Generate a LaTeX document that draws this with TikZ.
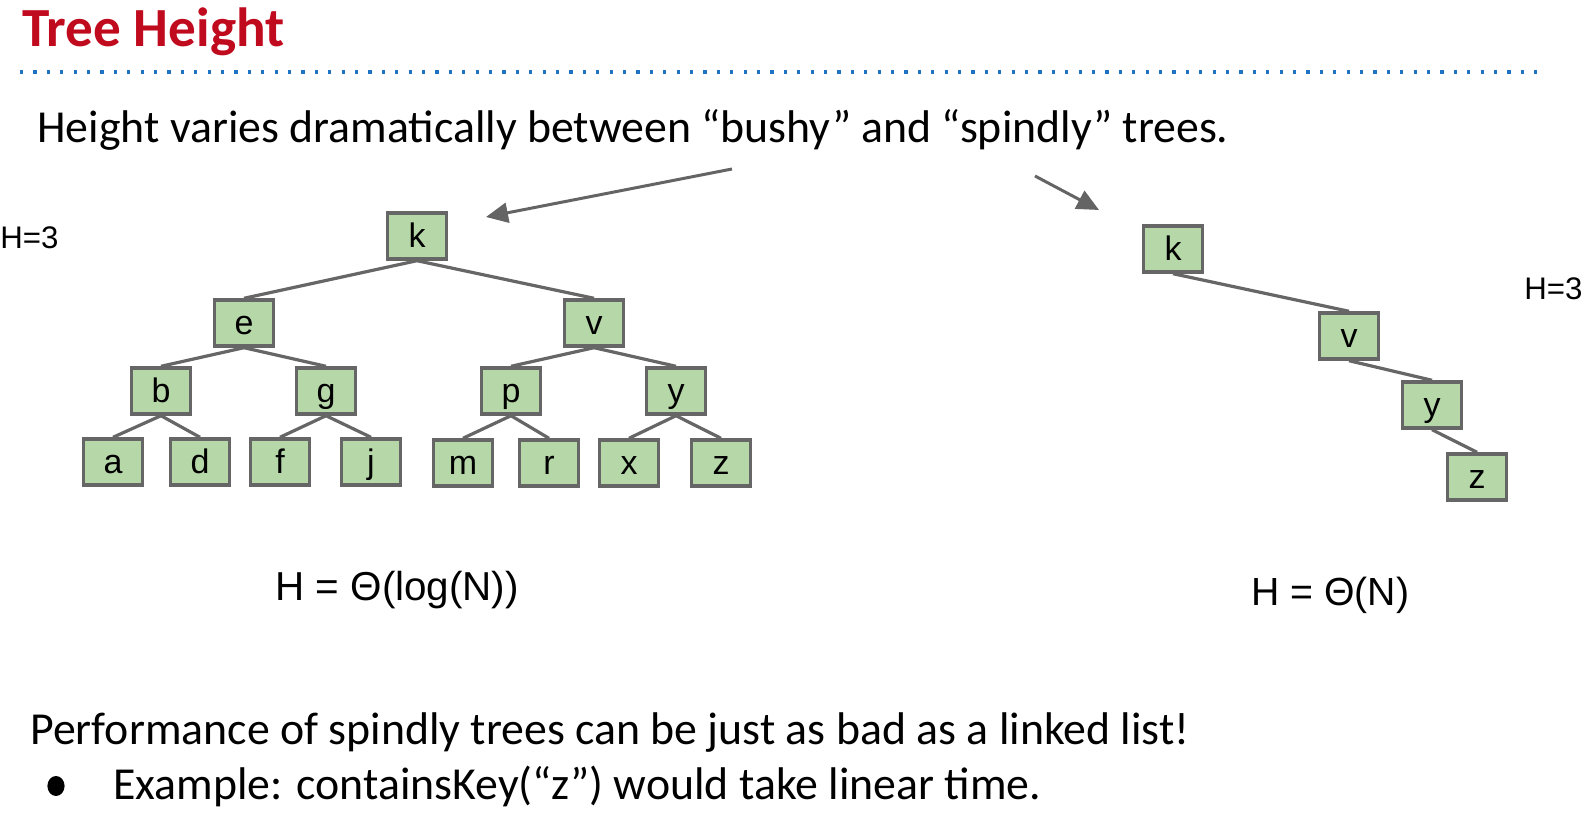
\documentclass[tikz,border=0pt]{standalone}
\usepackage{fontspec}
\setmainfont{Carlito}
\newfontfamily\arialfont{Liberation Sans}
\usetikzlibrary{arrows.meta}

\definecolor{titlered}{RGB}{192,10,30}
\definecolor{rulerblue}{RGB}{30,115,195}
\definecolor{boxfill}{RGB}{182,215,168}
\definecolor{boxline}{RGB}{102,102,102}
\definecolor{arrowgray}{RGB}{100,100,100}

\tikzset{
  treenode/.style={draw=boxline, fill=boxfill, line width=1.7pt,
    minimum width=29.5pt, minimum height=23pt, inner sep=0pt,
    font=\arialfont\fontsize{17}{17}\selectfont, text height=12pt, text depth=0pt},
  treeedge/.style={draw=boxline, line width=1.6pt},
  pointer/.style={draw=arrowgray, line width=1.5pt,
    -{Triangle[length=11pt,width=10pt]}},
  plaintext/.style={inner sep=0pt, anchor=base west},
  bodytext/.style={plaintext, font=\fontsize{22.9}{25}\selectfont},
}

\begin{document}
\begin{tikzpicture}[x=0.5pt, y=-0.5pt]
  \useasboundingbox (0,0) rectangle (1586,817);

  % heading and rule
  \node[plaintext, text=titlered, font=\bfseries\fontsize{27.6}{30}\selectfont] (title) at (22,47) {Tree Height};
  \draw[rulerblue, line width=1.8pt, dash pattern=on 1.6pt off 5.1pt] (20,72) -- (1538,72);

  \node[bodytext] (intro) at (37,143)
    {Height varies dramatically between “bushy” and “spindly” trees.};

  % bushy tree
  \node[treenode] (k)  at (417,236) {k};
  \node[treenode] (e)  at (244,323) {e};
  \node[treenode] (v)  at (594,323) {v};
  \node[treenode] (b)  at (161,391) {b};
  \node[treenode] (g)  at (326,391) {g};
  \node[treenode] (p)  at (511,391) {p};
  \node[treenode] (y)  at (676,391) {y};
  \node[treenode] (a)  at (113,462) {a};
  \node[treenode] (d)  at (200,462) {d};
  \node[treenode] (f)  at (280,462) {f};
  \node[treenode] (j)  at (371,462) {j};
  \node[treenode] (m)  at (463,463) {m};
  \node[treenode] (r)  at (549,463) {r};
  \node[treenode] (x)  at (629,463) {x};
  \node[treenode] (z)  at (721,463) {z};

  \foreach \u/\w in {k/e,k/v,e/b,e/g,v/p,v/y,b/a,b/d,g/f,g/j,p/m,p/r,y/x,y/z}
    \draw[treeedge] (\u.south) -- (\w.north);

  % spindly tree
  \node[treenode] (sk) at (1173,249) {k};
  \node[treenode] (sv) at (1349,336) {v};
  \node[treenode] (sy) at (1432,405) {y};
  \node[treenode] (sz) at (1477,477) {z};
  \foreach \u/\w in {sk/sv,sv/sy,sy/sz}
    \draw[treeedge] (\u.south) -- (\w.north);

  % arrows from the sentence to each tree
  \coordinate (leftfrom) at (732,169);
  \coordinate (leftto)   at (486,217);
  \coordinate (rightfrom) at (1035,176);
  \coordinate (rightto)   at (1099,210);
  \draw[pointer] (leftfrom) -- (leftto);
  \draw[pointer] (rightfrom) -- (rightto);

  % height labels
  \node[plaintext, font=\arialfont\fontsize{15.6}{16}\selectfont] (hl) at (0,249) {H=3};
  \node[plaintext, font=\arialfont\fontsize{15.6}{16}\selectfont] (hr) at (1524,300) {H=3};

  \node[plaintext, font=\arialfont\fontsize{20.2}{22}\selectfont] (logn) at (275,601) {H = Θ(log(N))};
  \node[plaintext, font=\arialfont\fontsize{19.6}{22}\selectfont] (lin) at (1251,606) {H = Θ(N)};

  % closing remarks
  \node[bodytext] (perf) at (30,745)
    {Performance of spindly trees can be just as bad as a linked list!};
  \fill (56,786) ellipse[x radius=4.3pt, y radius=5pt];
  \node[bodytext] (ex) at (113,799)
    {Example: containsKey(“z”) would take linear time.};
\end{tikzpicture}
\end{document}
